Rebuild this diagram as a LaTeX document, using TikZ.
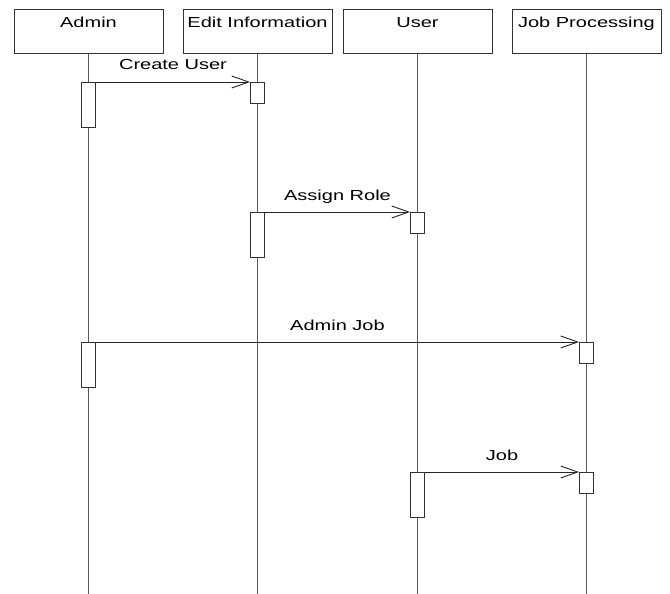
\documentclass[tikz,border=0pt]{standalone}
\usepackage{fontspec}
\usepackage{graphicx}
\setmainfont{Liberation Sans}
\usetikzlibrary{arrows.meta}
\newcommand{\wtxt}[1]{\scalebox{1.38}[1]{#1}}
\tikzset{
  headbox/.style={draw=black!80, line width=0.9pt, fill=white, inner sep=0pt,
    minimum width=149pt, text height=18pt, text depth=26pt, anchor=north,
    font=\fontsize{14.5pt}{16pt}\selectfont},
  lifeline/.style={draw=black!65, line width=0.9pt},
  actbox/.style={draw=black!80, line width=0.9pt, fill=white, inner sep=0pt,
    minimum width=14pt, anchor=north},
  longact/.style={actbox, minimum height=45pt},
  shortact/.style={actbox, minimum height=21pt},
  msg/.style={draw=black!85, line width=0.9pt, -{Straight Barb[length=17pt,width=12pt,line width=0.9pt]}},
  msglabel/.style={anchor=base, yshift=12pt, inner sep=0pt, font=\fontsize{14.5pt}{16pt}\selectfont}
}
\begin{document}
\begin{tikzpicture}[x=1pt,y=-1pt]
\useasboundingbox[fill=white] (0,0) rectangle (670,594);
% headers
\node[headbox] (admin) at (88.5,9) {\wtxt{Admin}};
\node[headbox] (edit) at (257.5,9) {\wtxt{Edit Information}};
\node[headbox] (user) at (417.5,9) {\wtxt{User}};
\node[headbox] (job) at (586.5,9) {\wtxt{Job Processing}};
% lifeline ends
\coordinate (adminEnd) at (88.5,594);
\coordinate (editEnd) at (257.5,594);
\coordinate (userEnd) at (417.5,594);
\coordinate (jobEnd) at (586.5,594);
\draw[lifeline] (admin.south) -- (adminEnd);
\draw[lifeline] (edit.south) -- (editEnd);
\draw[lifeline] (user.south) -- (userEnd);
\draw[lifeline] (job.south) -- (jobEnd);
% activations
\node[longact] (a1) at (88.5,82) {};
\node[shortact] (e1) at (257.5,82) {};
\node[longact] (e2) at (257.5,212) {};
\node[shortact] (u2) at (417.5,212) {};
\node[longact] (a3) at (88.5,342) {};
\node[shortact] (j3) at (586.5,342) {};
\node[longact] (u4) at (417.5,472) {};
\node[shortact] (j4) at (586.5,472) {};
% messages
\draw[msg] (a1.north east) -- node[msglabel] (m1) {\wtxt{Create User}} (e1.north west);
\draw[msg] (e2.north east) -- node[msglabel] (m2) {\wtxt{Assign Role}} (u2.north west);
\draw[msg] (a3.north east) -- node[msglabel] (m3) {\wtxt{Admin Job}} (j3.north west);
\draw[msg] (u4.north east) -- node[msglabel] (m4) {\wtxt{Job}} (j4.north west);
\end{tikzpicture}
\end{document}
